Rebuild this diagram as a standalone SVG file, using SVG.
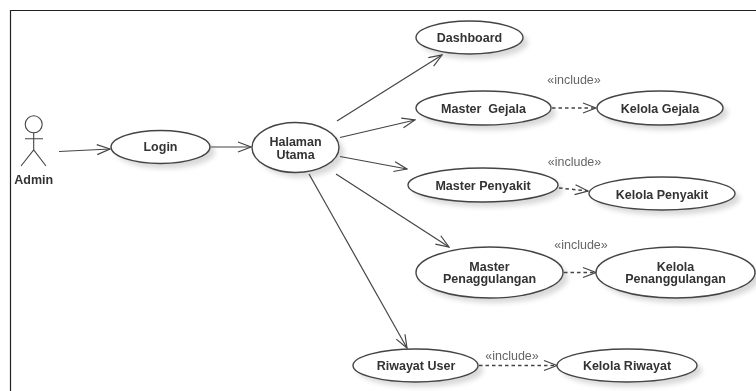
<svg xmlns="http://www.w3.org/2000/svg" width="756" height="391" viewBox="0 0 756 391">
<style>
.u{fill:#fff;stroke:#444;stroke-width:1.4}
.s{fill:#000;opacity:.15}
.t{font-family:"Liberation Sans",Arial,sans-serif;font-size:12.500px;font-weight:bold;fill:#333;text-anchor:middle}
.i{font-family:"Liberation Sans",Arial,sans-serif;font-size:12.500px;fill:#666;text-anchor:middle}
.c{fill:none;stroke:#444;stroke-width:1.2}
.d{stroke-dasharray:3.500 3;stroke-width:1.500}
.a{fill:none;stroke:#444;stroke-width:1.100}
</style>
<defs>
<filter id="b" x="-20%" y="-40%" width="140%" height="180%"><feGaussianBlur stdDeviation="2.500"/></filter>
<marker id="o" markerUnits="userSpaceOnUse" markerWidth="16" markerHeight="14" refX="15" refY="7" orient="auto"><path d="M2 2L15 7L2 12" fill="none" stroke="#444" stroke-width="1.200"/></marker>
</defs>
<rect width="756" height="391" fill="#fff"/>
<path d="M10.500 391V10.500H756" fill="none" stroke="#222" stroke-width="1.200"/>
<g id="shadows" filter="url(#b)">
<ellipse class="s" cx="165.500" cy="152" rx="49.500" ry="16.500"/>
<ellipse class="s" cx="300.500" cy="152.500" rx="43.500" ry="25"/>
<ellipse class="s" cx="474.500" cy="42.500" rx="53.500" ry="16.500"/>
<ellipse class="s" cx="488.500" cy="113" rx="67.500" ry="17"/>
<ellipse class="s" cx="665" cy="113" rx="63" ry="17"/>
<ellipse class="s" cx="488" cy="190" rx="75" ry="17"/>
<ellipse class="s" cx="667" cy="198.500" rx="73" ry="16.500"/>
<ellipse class="s" cx="494.500" cy="277.500" rx="73.500" ry="25.500"/>
<ellipse class="s" cx="680.500" cy="277.500" rx="79.500" ry="25.500"/>
<ellipse class="s" cx="420.500" cy="370.500" rx="62.500" ry="16.500"/>
<ellipse class="s" cx="632" cy="370.500" rx="70" ry="16.500"/>
</g>
<g id="connectors">
<path class="c" marker-end="url(#o)" d="M59 151.500L110 149"/>
<path class="c" marker-end="url(#o)" d="M211 147H251"/>
<path class="c" marker-end="url(#o)" d="M337 121L442 55"/>
<path class="c" marker-end="url(#o)" d="M340 137.500L415 120"/>
<path class="c" marker-end="url(#o)" d="M340 156.500L407 169"/>
<path class="c" marker-end="url(#o)" d="M336 174L449 247"/>
<path class="c" marker-end="url(#o)" d="M309 174L407 348"/>
<path class="c d" marker-end="url(#o)" d="M552 108H596"/>
<path class="c d" marker-end="url(#o)" d="M559 188L588 191"/>
<path class="c d" marker-end="url(#o)" d="M564 272.500H596"/>
<path class="c d" marker-end="url(#o)" d="M479 365.500H557"/>
</g>
<g id="admin">
<circle class="a" cx="33.700" cy="124.300" r="8.500"/>
<path class="a" d="M33.700 133V150M25 138.700H43M21 166L33.700 150L46 166"/>
<text class="t" x="33.700" y="184">Admin</text>
</g>
<g id="login"><ellipse class="u" cx="160.500" cy="147" rx="49.500" ry="16.500"/><text class="t" x="160.500" y="151">Login</text></g>
<g id="halaman"><ellipse class="u" cx="295.500" cy="147.500" rx="43.500" ry="25"/><text class="t" x="295.500" y="146">Halaman</text><text class="t" x="295.500" y="159">Utama</text></g>
<g id="dashboard"><ellipse class="u" cx="469.500" cy="37.500" rx="53.500" ry="16.500"/><text class="t" x="469.500" y="42">Dashboard</text></g>
<g id="master-gejala"><ellipse class="u" cx="483.500" cy="108" rx="67.500" ry="17"/><text class="t" x="483.500" y="112.500" xml:space="preserve">Master  Gejala</text></g>
<g id="kelola-gejala"><ellipse class="u" cx="660" cy="108" rx="63" ry="17"/><text class="t" x="660" y="112.500">Kelola Gejala</text></g>
<g id="master-penyakit"><ellipse class="u" cx="483" cy="185" rx="75" ry="17"/><text class="t" x="483" y="190">Master Penyakit</text></g>
<g id="kelola-penyakit"><ellipse class="u" cx="662" cy="193.500" rx="73" ry="16.500"/><text class="t" x="662" y="198.500">Kelola Penyakit</text></g>
<g id="master-penanggulangan"><ellipse class="u" cx="489.500" cy="272.500" rx="73.500" ry="25.500"/><text class="t" x="489.500" y="270.500">Master</text><text class="t" x="489.500" y="283">Penaggulangan</text></g>
<g id="kelola-penanggulangan"><ellipse class="u" cx="675.500" cy="272.500" rx="79.500" ry="25.500"/><text class="t" x="675.500" y="270.500">Kelola</text><text class="t" x="675.500" y="283">Penanggulangan</text></g>
<g id="riwayat-user"><ellipse class="u" cx="415.500" cy="365.500" rx="62.500" ry="16.500"/><text class="t" x="416" y="370">Riwayat User</text></g>
<g id="kelola-riwayat"><ellipse class="u" cx="627" cy="365.500" rx="70" ry="16.500"/><text class="t" x="627" y="370">Kelola Riwayat</text></g>
<g id="include-labels">
<text class="i" x="574" y="84">«include»</text>
<text class="i" x="574.500" y="166">«include»</text>
<text class="i" x="581" y="249">«include»</text>
<text class="i" x="512" y="359.500">«include»</text>
</g>
</svg>
